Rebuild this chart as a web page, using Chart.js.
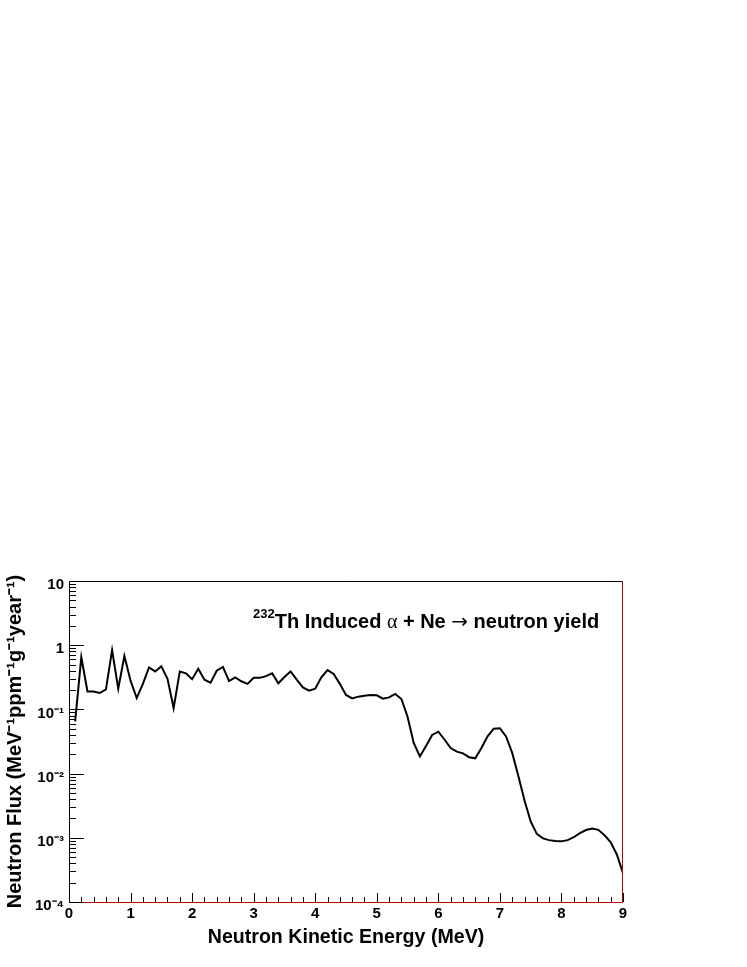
<!DOCTYPE html>
<html>
<head>
<meta charset="utf-8">
<script src="https://cdn.jsdelivr.net/npm/chart.js@4/dist/chart.umd.min.js"></script>
<style>
  html, body { margin: 0; padding: 0; background: #ffffff; }
  #c { display: block; }
</style>
</head>
<body>
<canvas id="c" width="747" height="967"></canvas>
<script>
// ---- data ----
const energies = [0.1,0.2,0.3,0.4,0.5,0.6,0.7,0.8,0.9,1.0,
  1.1,1.2,1.3,1.4,1.5,1.6,1.7,1.8,1.9,2.0,
  2.1,2.2,2.3,2.4,2.5,2.6,2.7,2.8,2.9,3.0,
  3.1,3.2,3.3,3.4,3.5,3.6,3.7,3.8,3.9,4.0,
  4.1,4.2,4.3,4.4,4.5,4.6,4.7,4.8,4.9,5.0,
  5.1,5.2,5.3,5.4,5.5,5.6,5.7,5.8,5.9,6.0,
  6.1,6.2,6.3,6.4,6.5,6.6,6.7,6.8,6.9,7.0,
  7.1,7.2,7.3,7.4,7.5,7.6,7.7,7.8,7.9,8.0,
  8.1,8.2,8.3,8.4,8.5,8.6,8.7,8.8,8.9,9.0];
const neutronFlux = [0.065,0.65,0.19,0.19,0.18,0.205,0.84,0.21,0.68,0.28,
  0.15,0.25,0.45,0.39,0.47,0.30,0.105,0.39,0.365,0.295,
  0.43,0.29,0.26,0.40,0.46,0.277,0.316,0.274,0.25,0.31,
  0.31,0.33,0.365,0.255,0.32,0.39,0.29,0.22,0.196,0.21,
  0.316,0.41,0.356,0.25,0.168,0.148,0.158,0.163,0.168,0.166,
  0.147,0.154,0.174,0.145,0.077,0.030,0.0185,0.027,0.040,0.045,
  0.034,0.025,0.022,0.0207,0.018,0.0173,0.025,0.038,0.050,0.051,
  0.038,0.021,0.0092,0.0038,0.0018,0.00115,0.00098,0.00092,0.00089,0.00088,
  0.00092,0.00102,0.00118,0.00132,0.0014,0.00133,0.0011,0.00085,0.00055,0.00028];
const xTickValues = [0,1,2,3,4,5,6,7,8,9];
const xTickLabels = ['0','1','2','3','4','5','6','7','8','9'];
const yTickValues = [1e-4,1e-3,1e-2,1e-1,1,10];
const yTickLabels = ['10\u207B\u2074','10\u207B\u00B3','10\u207B\u00B2','10\u207B\u00B9','1','10'];
const xTitle = 'Neutron Kinetic Energy (MeV)';
const yTitle = 'Neutron Flux (MeV\u207B\u00B9ppm\u207B\u00B9g\u207B\u00B9year\u207B\u00B9)';

const FONT = "'Liberation Sans', Arial, Helvetica, sans-serif";
Chart.defaults.font.family = FONT;
Chart.defaults.color = '#000';

// inward ticks + frame, drawn from the library's scales
const frameTicks = {
  id: 'frameTicks',
  afterDatasetsDraw(chart) {
    const {ctx, chartArea: {left, right, top, bottom}, scales: {x, y}} = chart;
    ctx.save();
    ctx.lineWidth = 1;
    // frame
    ctx.strokeStyle = '#000';
    ctx.beginPath();
    ctx.moveTo(left + 0.5, bottom); ctx.lineTo(left + 0.5, top + 0.5); ctx.lineTo(right, top + 0.5);
    ctx.stroke();
    ctx.strokeStyle = '#b40000';
    ctx.beginPath();
    ctx.moveTo(left, bottom + 0.5); ctx.lineTo(right - 0.5, bottom + 0.5); ctx.lineTo(right - 0.5, top);
    ctx.stroke();
    // x ticks
    ctx.strokeStyle = '#000';
    ctx.beginPath();
    const xmin = x.min, xmax = x.max;
    const nMinor = Math.round((xmax - xmin) / 0.2);
    for (let i = 0; i <= nMinor; i++) {
      const v = xmin + i * 0.2;
      const px = Math.round(x.getPixelForValue(v)) + 0.5;
      const len = (i % 5 === 0) ? 9 : 5;
      ctx.moveTo(px, bottom); ctx.lineTo(px, bottom - len);
    }
    // y ticks (log)
    for (let e = -4; e <= 1; e++) {
      for (let m = 1; m <= 9; m++) {
        const v = m * Math.pow(10, e);
        if (v > y.max * 1.0001) break;
        const py = Math.round(y.getPixelForValue(v)) + 0.5;
        const len = (m === 1) ? 15 : 7;
        ctx.moveTo(left, py); ctx.lineTo(left + len, py);
      }
    }
    ctx.stroke();
    ctx.restore();
  }
};

// annotation text inside the plot
const annotation = {
  id: 'annotation',
  afterDraw(chart) {
    const ctx = chart.ctx;
    ctx.save();
    ctx.fillStyle = '#000';
    ctx.textBaseline = 'alphabetic';
    ctx.textAlign = 'left';
    let xPos = 253;
    const base = 628;
    const pieces = [
      {t: '232', f: 'bold 13px ' + FONT, dy: -10},
      {t: 'Th Induced ', f: 'bold 20px ' + FONT, dy: 0},
      {t: '\u03B1', f: '20px "Liberation Serif", "DejaVu Serif", serif', dy: 0},
      {t: ' + Ne ', f: 'bold 20px ' + FONT, dy: 0},
      {t: '\u2192', f: '20px "DejaVu Sans", sans-serif', dy: 0},
      {t: ' neutron yield', f: 'bold 20px ' + FONT, dy: 0}
    ];
    for (const p of pieces) {
      ctx.font = p.f;
      ctx.fillText(p.t, xPos, base + p.dy);
      xPos += ctx.measureText(p.t).width;
    }
    ctx.restore();
  }
};

new Chart(document.getElementById('c'), {
  type: 'line',
  data: {
    datasets: [{
      data: energies.map((e, i) => ({x: e, y: neutronFlux[i]})),
      borderColor: '#000',
      borderWidth: 2,
      pointRadius: 0,
      tension: 0,
      fill: false
    }]
  },
  options: {
    responsive: false,
    animation: false,
    devicePixelRatio: 1,
    layout: { padding: { left: 0, top: 581, right: 124, bottom: 0 } },
    plugins: { legend: { display: false }, tooltip: { enabled: false }, title: { display: false } },
    scales: {
      x: {
        type: 'linear', min: 0, max: 9,
        grid: { display: false, drawTicks: false },
        border: { display: false },
        afterBuildTicks(scale) { scale.ticks = xTickValues.map(v => ({value: v})); },
        afterFit(scale) { scale.height = 65; },
        ticks: {
          padding: 3,
          maxRotation: 0,
          autoSkip: false,
          font: { size: 15, weight: 'bold' },
          color: '#000',
          callback: (v) => { const i = xTickValues.indexOf(v); return i >= 0 ? xTickLabels[i] : ''; }
        },
        title: { display: true, text: xTitle, font: { size: 19.6, weight: 'bold' }, color: '#000', padding: { top: 0, bottom: 18 } }
      },
      y: {
        type: 'logarithmic', min: 1e-4, max: 10,
        grid: { display: false, drawTicks: false },
        border: { display: false },
        afterBuildTicks(scale) { scale.ticks = yTickValues.map(v => ({value: v})); },
        afterFit(scale) { scale.width = 69; },
        ticks: {
          padding: 5,
          labelOffset: 4,
          autoSkip: false,
          font: { size: 15, weight: 'bold' },
          color: '#000',
          callback: (v) => {
            const i = yTickValues.findIndex(t => Math.abs(t - v) / t < 1e-6);
            return i >= 0 ? yTickLabels[i] : '';
          }
        },
        title: { display: true, text: yTitle, font: { size: 20, weight: 'bold' }, color: '#000', padding: { top: 3, bottom: 0 } }
      }
    }
  },
  plugins: [frameTicks, annotation]
});
</script>
</body>
</html>
